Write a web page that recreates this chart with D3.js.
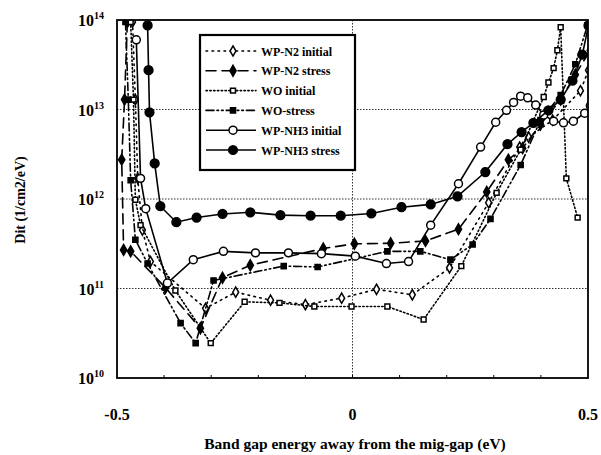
<!DOCTYPE html>
<html>
<head>
<meta charset="utf-8">
<script src="https://cdn.jsdelivr.net/npm/d3@7"></script>
<style>
	body { margin: 0; background: #fff; }
	svg { display: block; font-family: "Liberation Serif", "DejaVu Serif", serif; font-weight: bold; }
</style>
</head>
<body>
<svg id="chart" width="601" height="455"></svg>
<script>
// series names as in the legend
var aSeriesNames = ["WP-N2 initial", "WP-N2 stress", "WO initial", "WO-stress", "WP-NH3 initial", "WP-NH3 stress"];

// x ticks (eV) and y decades (Dit)
var aXTicks = [-0.5, 0, 0.5];
var aXTickLabels = ["-0.5", "0", "0.5"];
var aYDecades = [1e10, 1e11, 1e12, 1e13, 1e14];
var aYExponents = ["10", "11", "12", "13", "14"];

// WP-N2 initial
var aN2InitX = [-0.467, -0.461, -0.456, -0.446, -0.429, -0.312, -0.248, -0.174, -0.100, -0.023, 0.051, 0.127, 0.206, 0.289, 0.355, 0.374, 0.425, 0.484, 0.501];
var aN2InitDit = [9.5e13, 1.29e13, 1.7e12, 4.5e11, 2.0e11, 6.0e10, 9.1e10, 7.4e10, 6.6e10, 7.8e10, 9.8e10, 8.5e10, 1.7e11, 9.1e11, 3.8e12, 4.9e12, 7.6e12, 1.62e13, 2.75e13];

// WP-N2 stress
var aN2StressX = [-0.478, -0.484, -0.490, -0.486, -0.471, -0.397, -0.323, -0.276, -0.217, -0.062, 0.004, 0.081, 0.155, 0.225, 0.285, 0.331, 0.361, 0.399, 0.442, 0.473, 0.505];
var aN2StressDit = [9.5e13, 1.29e13, 2.75e12, 2.7e11, 2.6e11, 1.02e11, 3.6e10, 1.32e11, 1.82e11, 2.8e11, 3.16e11, 3.2e11, 3.4e11, 4.6e11, 1.2e12, 2.75e12, 3.7e12, 6.8e12, 1.29e13, 2.45e13, 4.6e13];

// WO initial
var aWoInitX = [-0.471, -0.465, -0.461, -0.450, -0.376, -0.301, -0.229, -0.155, -0.081, -0.002, 0.074, 0.151, 0.231, 0.306, 0.357, 0.406, 0.416, 0.427, 0.435, 0.442, 0.454, 0.478];
var aWoInitDit = [9.5e13, 1.29e13, 9.8e11, 5.1e11, 9.5e10, 2.45e10, 7.1e10, 6.9e10, 6.3e10, 6.3e10, 6.3e10, 4.5e10, 1.78e11, 1.17e12, 3.55e12, 1.38e13, 2.0e13, 2.9e13, 4.6e13, 8.3e13, 1.7e12, 6.2e11];

// WO-stress
var aWoStressX = [-0.482, -0.476, -0.471, -0.461, -0.435, -0.365, -0.333, -0.295, -0.146, -0.074, 0.074, 0.144, 0.208, 0.255, 0.293, 0.357, 0.399, 0.442, 0.473, 0.499];
var aWoStressDit = [9.5e13, 1.29e13, 1.62e12, 3.5e11, 1.9e11, 4.1e10, 2.45e10, 1.23e11, 1.78e11, 1.74e11, 2.6e11, 2.6e11, 2.1e11, 3.1e11, 6.0e11, 2.4e12, 7.6e12, 1.45e13, 3.2e13, 8.7e13];

// WP-NH3 initial
var aNh3InitX = [-0.459, -0.450, -0.439, -0.393, -0.338, -0.274, -0.206, -0.136, -0.066, 0.006, 0.072, 0.119, 0.166, 0.225, 0.272, 0.304, 0.327, 0.342, 0.357, 0.372, 0.389, 0.406, 0.427, 0.448, 0.469, 0.493, 0.505];
var aNh3InitDit = [6.0e13, 1.7e12, 7.8e11, 1.15e11, 2.1e11, 2.6e11, 2.5e11, 2.5e11, 2.45e11, 2.3e11, 1.9e11, 2.0e11, 5.1e11, 1.48e12, 3.8e12, 7.2e12, 9.8e12, 1.2e13, 1.41e13, 1.35e13, 1.12e13, 8.7e12, 7.4e12, 7.1e12, 7.4e12, 9.1e12, 1.1e13];

// WP-NH3 stress
var aNh3StressX = [-0.435, -0.433, -0.431, -0.420, -0.408, -0.374, -0.331, -0.276, -0.217, -0.153, -0.089, -0.025, 0.040, 0.104, 0.166, 0.223, 0.282, 0.329, 0.359, 0.384, 0.416, 0.442, 0.467, 0.488, 0.501];
var aNh3StressDit = [8.7e13, 2.75e13, 9.3e12, 2.5e12, 8.3e11, 5.5e11, 6.2e11, 6.8e11, 7.1e11, 6.6e11, 6.5e11, 6.5e11, 6.9e11, 8.1e11, 8.7e11, 1.07e12, 2.0e12, 4.1e12, 5.6e12, 7.1e12, 9.8e12, 1.29e13, 2.1e13, 4.1e13, 8.7e13];

(function () {
	var $svg = d3.select("#chart"),
		iLeft = 117, iRight = 588, iTop = 20, iBottom = 378;

	var x = d3.scaleLinear().domain([-0.5, 0.5]).range([iLeft, iRight]),
		y = d3.scaleLog().domain([1e10, 1e14]).range([iBottom, iTop]);

	// style per series: dash, marker symbol, filled?
	var aSeries = [
		{xs: aN2InitX, ys: aN2InitDit, dash: "1.6,4.4", sym: d3.symbolDiamond, size: 30, fill: false},
		{xs: aN2StressX, ys: aN2StressDit, dash: "10,6", sym: d3.symbolDiamond, size: 34, fill: true},
		{xs: aWoInitX, ys: aWoInitDit, dash: "1.4,2.4", sym: d3.symbolSquare, size: 24, fill: false},
		{xs: aWoStressX, ys: aWoStressDit, dash: "8,3,1.6,3,1.6,3", sym: d3.symbolSquare, size: 26, fill: true},
		{xs: aNh3InitX, ys: aNh3InitDit, dash: null, sym: d3.symbolCircle, size: 50, fill: false},
		{xs: aNh3StressX, ys: aNh3StressDit, dash: null, sym: d3.symbolCircle, size: 60, fill: true}
	];

	$svg.append("defs").append("clipPath").attr("id", "plotClip")
		.append("rect")
		.attr("x", iLeft).attr("y", iTop)
		.attr("width", iRight - iLeft).attr("height", iBottom - iTop);

	// grid
	var $grid = $svg.append("g");
	$grid.selectAll("line.h")
		.data(aYDecades.slice(1, 4))
		.enter().append("line")
		.attr("x1", iLeft).attr("x2", iRight)
		.attr("y1", function (d) { return y(d); })
		.attr("y2", function (d) { return y(d); })
		.attr("stroke", "#333").attr("stroke-width", 1)
		.attr("stroke-dasharray", "1.5,1.5");
	$grid.append("line")
		.attr("x1", x(0)).attr("x2", x(0))
		.attr("y1", iTop).attr("y2", iBottom)
		.attr("stroke", "#333").attr("stroke-width", 1)
		.attr("stroke-dasharray", "1.5,1.5");

	// series
	var $plot = $svg.append("g").attr("clip-path", "url(#plotClip)");
	aSeries.forEach(function (s) {
		var aPts = s.xs.map(function (v, i) { return [v, s.ys[i]]; });
		var line = d3.line()
			.x(function (d) { return x(d[0]); })
			.y(function (d) { return y(d[1]); });
		$plot.append("path")
			.datum(aPts)
			.attr("d", line)
			.attr("fill", "none")
			.attr("stroke", "#000")
			.attr("stroke-width", 1.6)
			.attr("stroke-linecap", s.dash ? "round" : "butt")
			.attr("stroke-dasharray", s.dash);
		$plot.selectAll(null)
			.data(aPts)
			.enter().append("path")
			.attr("d", d3.symbol().type(s.sym).size(s.size))
			.attr("transform", function (d) {
				return "translate(" + x(d[0]) + "," + y(d[1]) + ")";
			})
			.attr("fill", s.fill ? "#000" : "#fff")
			.attr("stroke", "#000")
			.attr("stroke-width", 1.5);
	});

	// frame
	$svg.append("rect")
		.attr("x", iLeft).attr("y", iTop)
		.attr("width", iRight - iLeft).attr("height", iBottom - iTop)
		.attr("fill", "none").attr("stroke", "#000").attr("stroke-width", 1.8);

	// minor ticks on bottom
	$svg.append("g").selectAll("line")
		.data(d3.range(-4, 5).map(function (i) { return i / 10; }))
		.enter().append("line")
		.attr("x1", function (d) { return x(d); })
		.attr("x2", function (d) { return x(d); })
		.attr("y1", iBottom).attr("y2", iBottom - 3)
		.attr("stroke", "#000").attr("stroke-width", 1);

	// x tick labels
	$svg.append("g").selectAll("text")
		.data(aXTicks)
		.enter().append("text")
		.attr("x", function (d) { return x(d); })
		.attr("y", 420)
		.attr("text-anchor", "middle")
		.attr("font-size", 16)
		.text(function (d, i) { return aXTickLabels[i]; });

	// y tick labels 10^n
	var $yl = $svg.append("g").selectAll("text")
		.data(aYDecades)
		.enter().append("text")
		.attr("x", 104)
		.attr("y", function (d) { return y(d) + 6; })
		.attr("text-anchor", "end")
		.attr("font-size", 16);
	$yl.append("tspan").text("10");
	$yl.append("tspan")
		.attr("dy", -7)
		.attr("font-size", 10)
		.text(function (d, i) { return aYExponents[i]; });

	// axis titles
	$svg.append("text")
		.attr("x", 355).attr("y", 449)
		.attr("text-anchor", "middle")
		.attr("font-size", 15.5)
		.text("Band gap energy away from the mig-gap (eV)");
	$svg.append("text")
		.attr("transform", "translate(25,200) rotate(-90)")
		.attr("text-anchor", "middle")
		.attr("font-size", 14)
		.text("Dit (1/cm2/eV)");

	// legend
	var iLx = 200, iLy = 35, iLw = 155, iLh = 135;
	var $leg = $svg.append("g");
	$leg.append("rect")
		.attr("x", iLx).attr("y", iLy)
		.attr("width", iLw).attr("height", iLh)
		.attr("fill", "#fff").attr("stroke", "#000").attr("stroke-width", 2.2);
	aSeries.forEach(function (s, i) {
		var fy = iLy + 16 + i * 19.8;
		$leg.append("line")
			.attr("x1", iLx + 6).attr("x2", iLx + 56)
			.attr("y1", fy).attr("y2", fy)
			.attr("stroke", "#000").attr("stroke-width", 1.6)
			.attr("stroke-linecap", s.dash ? "round" : "butt")
			.attr("stroke-dasharray", s.dash);
		$leg.append("path")
			.attr("d", d3.symbol().type(s.sym).size(s.size))
			.attr("transform", "translate(" + (iLx + 33) + "," + fy + ")")
			.attr("fill", s.fill ? "#000" : "#fff")
			.attr("stroke", "#000").attr("stroke-width", 1.5);
		$leg.append("text")
			.attr("x", iLx + 61).attr("y", fy + 4.5)
			.attr("font-size", 12)
			.text(aSeriesNames[i]);
	});
})();
</script>
</body>
</html>
